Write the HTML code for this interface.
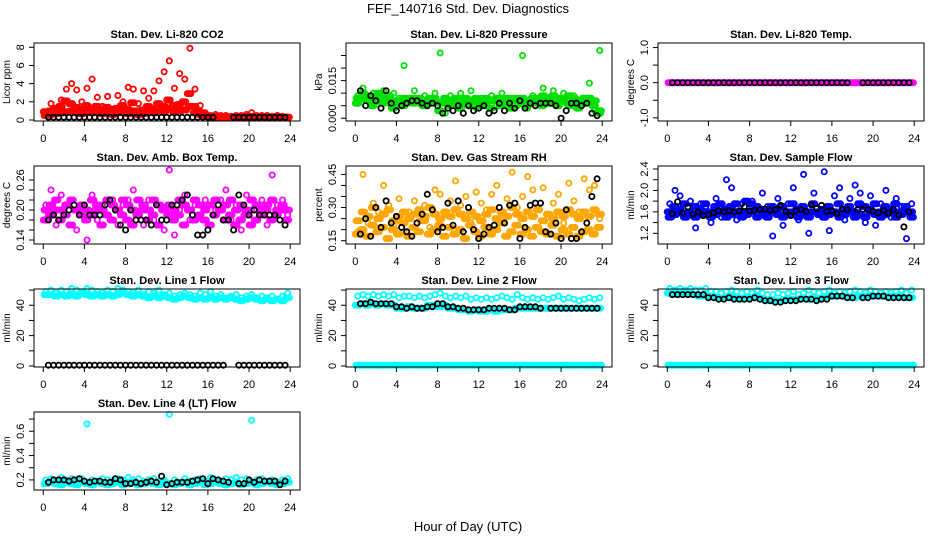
<!DOCTYPE html>
<html><head><meta charset="utf-8"><style>
html,body{margin:0;padding:0;background:#fff;}
svg{display:block;font-family:"Liberation Sans",Arial,sans-serif;}
</style></head><body>
<svg id="fig" width="936" height="540" viewBox="0 0 936 540">
<text x="468" y="13" text-anchor="middle" font-size="13">FEF_140716  Std. Dev. Diagnostics</text>
<text x="468" y="531" text-anchor="middle" font-size="13">Hour of Day (UTC)</text>
</svg>
<script>
const hours=[0,0.5,1,1.5,2,2.5,3,3.5,4,4.5,5,5.5,6,6.5,7,7.5,8,8.5,9,9.5,10,10.5,11,11.5,12,12.5,13,13.5,14,14.5,15,15.5,16,16.5,17,17.5,18,18.5,19,19.5,20,20.5,21,21.5,22,22.5,23,23.5];
const xTicks=[0,4,8,12,16,20,24];

const co2A=[0.5,1.8,0.9,2.2,3.4,4.0,3.3,2.0,3.5,4.5,2.5,1.5,2.6,1.2,2.7,2.0,3.6,3.4,1.8,3.2,2.4,3.2,4.3,5.3,6.5,3.5,5.1,4.5,7.9,3.4,1.6,0.8,0.5,0.6,0.5,0.5,0.4,0.5,0.5,0.6,0.8,0.5,0.5,0.5,0.4,0.5,0.4,0.3];
const co2B=[0.9,1.0,1.3,1.5,2.1,1.8,1.4,1.2,1.6,1.3,1.5,1.1,1.4,1.0,1.3,1.6,1.2,1.9,1.0,1.1,1.5,1.2,1.8,1.5,2.2,1.6,1.7,2.0,2.9,1.5,0.9,0.6,0.4,0.4,0.3,0.3,0.35,0.3,0.3,0.4,0.4,0.3,0.35,0.3,0.3,0.35,0.3,0.3];
const co2C=[0.5,0.6,0.7,0.8,0.9,1.0,0.8,0.7,0.9,0.8,1.0,0.7,0.8,0.6,0.9,0.8,0.7,1.0,0.6,0.7,0.9,0.8,1.0,0.9,1.2,0.9,1.0,1.1,1.5,0.8,0.6,0.4,0.3,0.3,0.3,0.3,0.3,0.3,0.3,0.3,0.3,0.3,0.3,0.3,0.3,0.3,0.3,0.3];
const co2K=[null,0.3,0.3,0.3,0.3,0.3,0.3,0.3,0.3,0.3,0.3,0.3,0.3,0.3,0.3,0.3,0.3,0.3,0.3,0.3,0.3,0.3,0.3,0.3,0.3,0.3,0.3,0.3,0.3,0.3,0.3,0.3,0.3,0.3,null,null,null,0.3,0.3,0.3,0.3,0.3,0.3,0.3,0.3,0.3,0.3,0.3];

const presA=[0.009,0.012,0.008,0.010,0.007,0.011,0.006,0.010,0.008,0.021,0.007,0.011,0.006,0.009,0.007,0.010,0.026,0.002,0.009,0.005,0.010,0.006,0.011,0.004,0.008,0.006,0.009,0.005,0.010,0.007,0.008,0.005,0.025,0.004,0.009,0.007,0.012,0.006,0.011,0.007,0.010,0.005,0.009,0.006,0.008,0.014,0.003,0.027];
const presB=[0.006,0.008,0.007,0.005,0.009,0.006,0.008,0.004,0.007,0.005,0.008,0.006,0.007,0.005,0.006,0.008,0.003,0.006,0.005,0.007,0.004,0.006,0.005,0.007,0.005,0.006,0.004,0.007,0.005,0.006,0.004,0.007,0.006,0.005,0.007,0.006,0.005,0.007,0.006,0.005,0.007,0.006,0.005,0.004,0.006,0.007,0.005,0.002];
const presC=[0.008,0.010,0.009,0.008,0.010,0.008,0.009,0.007,0.006,0.008,0.007,0.008,0.008,0.007,0.008,0.007,0.006,0.008,0.007,0.008,0.006,0.008,0.007,0.008,0.007,0.008,0.007,0.008,0.007,0.008,0.007,0.008,0.008,0.007,0.008,0.008,0.009,0.008,0.009,0.008,0.008,0.009,0.008,0.007,0.008,0.008,0.007,0.003];
const presK=[null,0.011,0.005,0.009,0.007,0.004,0.011,0.006,0.003,0.005,0.006,0.007,0.007,0.006,0.005,0.006,0.005,0.002,0.004,0.003,0.005,0.002,0.005,0.003,0.004,0.005,0.002,0.003,0.006,0.003,0.006,0.004,0.007,0.004,0.006,0.005,0.006,0.006,0.006,0.005,0.000,0.003,0.006,0.006,0.005,0.006,0.002,0.001];

const tempA=[0,0,0,0,0,0,0,0,0,0,0,0,0,0,0,0,0,0,0,0,0,0,0,0,0,0,0,0,0,0,0,0,0,0,0,0,0,0,0,0,0,0,0,0,0,0,0,0];
const tempK=[null,0,0,0,0,0,0,0,0,0,0,0,0,0,0,0,0,0,0,0,0,0,0,0,0,0,0,0,0,0,0,0,0,0,0,0,null,null,0,0,0,0,0,0,0,0,0,0];

const boxA=[0.21,0.24,0.17,0.23,0.19,0.22,0.16,0.20,0.14,0.23,0.18,0.21,0.19,0.22,0.17,0.21,0.22,0.24,0.19,0.17,0.22,0.18,0.21,0.16,0.28,0.15,0.20,0.23,0.18,0.21,0.19,0.22,0.17,0.20,0.22,0.24,0.18,0.21,0.16,0.23,0.20,0.18,0.22,0.17,0.27,0.21,0.22,0.19];
const boxB=[0.18,0.19,0.20,0.18,0.19,0.17,0.20,0.19,0.18,0.19,0.20,0.17,0.19,0.18,0.20,0.19,0.18,0.17,0.19,0.20,0.18,0.19,0.17,0.20,0.19,0.18,0.19,0.17,0.20,0.18,0.19,0.18,0.17,0.19,0.20,0.18,0.19,0.17,0.18,0.19,0.17,0.18,0.19,0.20,0.18,0.19,0.20,0.18];
const boxC=[0.20,0.21,0.22,0.20,0.21,0.22,0.20,0.21,0.20,0.22,0.21,0.20,0.22,0.21,0.20,0.22,0.21,0.20,0.22,0.21,0.20,0.22,0.21,0.20,0.21,0.20,0.22,0.21,0.20,0.22,0.21,0.20,0.21,0.22,0.20,0.21,0.22,0.20,0.21,0.20,0.22,0.21,0.20,0.21,0.22,0.20,0.21,0.20];
const boxK=[null,0.18,0.19,0.18,0.19,0.20,0.21,0.19,0.21,0.19,0.19,0.19,0.21,0.22,0.20,0.17,0.16,0.20,0.18,0.18,0.18,0.17,0.21,0.18,0.18,0.21,0.21,0.22,0.23,0.19,0.15,0.15,0.16,0.19,0.21,0.18,0.18,0.16,0.23,0.21,0.19,0.20,0.19,0.19,0.19,0.19,0.18,0.17];

const rhA=[0.19,0.45,0.23,0.32,0.28,0.40,0.31,0.22,0.34,0.19,0.28,0.33,0.24,0.31,0.21,0.38,0.36,0.27,0.33,0.42,0.31,0.35,0.23,0.37,0.32,0.29,0.36,0.40,0.25,0.34,0.46,0.30,0.35,0.44,0.38,0.29,0.39,0.27,0.32,0.36,0.23,0.41,0.33,0.28,0.43,0.38,0.40,0.25];
const rhB=[0.18,0.20,0.17,0.22,0.19,0.21,0.16,0.20,0.18,0.23,0.17,0.21,0.19,0.24,0.18,0.20,0.22,0.17,0.21,0.18,0.20,0.16,0.22,0.19,0.17,0.21,0.18,0.20,0.23,0.17,0.19,0.22,0.18,0.20,0.17,0.21,0.19,0.18,0.22,0.17,0.20,0.18,0.21,0.17,0.19,0.20,0.18,0.21];
const rhC=[0.24,0.28,0.26,0.30,0.25,0.27,0.29,0.24,0.26,0.28,0.25,0.27,0.29,0.26,0.30,0.27,0.25,0.28,0.26,0.29,0.27,0.25,0.28,0.26,0.24,0.27,0.29,0.25,0.28,0.26,0.30,0.27,0.25,0.28,0.26,0.29,0.24,0.27,0.25,0.28,0.26,0.29,0.27,0.25,0.28,0.26,0.29,0.27];
const rhK=[null,0.18,0.25,0.17,0.30,0.21,0.33,0.23,0.26,0.21,0.19,0.17,0.23,0.27,0.36,0.29,0.19,0.21,0.32,0.22,0.33,0.19,0.30,0.20,0.16,0.18,0.21,0.22,0.30,0.23,0.31,0.32,0.16,0.21,0.31,0.32,0.32,0.19,0.18,0.23,0.16,0.29,0.16,0.16,0.19,0.23,0.35,0.43];

const flowA=[1.75,2.0,1.9,1.5,1.8,1.3,1.75,1.7,1.4,1.85,1.5,2.2,2.05,1.45,1.75,1.6,1.8,1.55,1.95,1.7,1.15,1.85,1.35,1.75,2.05,1.45,2.3,1.2,1.95,1.55,2.35,1.25,1.9,2.05,1.45,1.85,2.1,1.95,1.4,1.9,1.35,1.75,2.0,1.5,1.85,1.7,1.1,1.75];
const flowB=[1.6,1.7,1.65,1.75,1.6,1.7,1.65,1.75,1.6,1.7,1.75,1.65,1.7,1.75,1.6,1.8,1.75,1.7,1.65,1.6,1.7,1.65,1.7,1.6,1.75,1.65,1.7,1.6,1.75,1.6,1.65,1.7,1.6,1.75,1.65,1.7,1.6,1.75,1.7,1.65,1.75,1.6,1.7,1.65,1.75,1.6,1.7,1.6];
const flowC=[1.5,1.55,1.6,1.5,1.55,1.5,1.6,1.55,1.5,1.55,1.6,1.5,1.55,1.6,1.5,1.55,1.6,1.5,1.55,1.5,1.6,1.55,1.5,1.55,1.6,1.5,1.55,1.5,1.6,1.55,1.5,1.55,1.6,1.5,1.55,1.6,1.5,1.55,1.5,1.6,1.55,1.5,1.55,1.6,1.5,1.55,1.6,1.5];
const flowK=[null,1.57,1.79,1.58,1.69,1.56,1.60,1.53,1.55,1.58,1.62,1.60,1.62,1.60,1.62,1.70,1.62,1.63,1.64,1.65,1.63,1.64,1.72,1.61,1.53,1.62,1.64,1.61,1.73,1.66,1.72,1.61,1.62,1.56,1.65,1.64,null,1.64,1.65,1.64,1.61,1.58,1.63,1.57,1.64,1.54,1.32,1.60];

const l1A=[49,50,48,50,49,51,50,48,51,50,49,48,50,49,51,50,49,48,50,47,49,48,50,47,48,46,47,48,47,46,48,47,49,46,47,45,46,47,45,46,47,45,46,45,46,44,46,48];
const l1B=[47,47,46,47,46,47,46,48,47,46,47,46,47,46,47,48,47,46,47,46,45,46,45,46,45,44,45,46,45,44,45,44,45,44,45,44,45,44,43,44,45,44,43,44,43,44,43,45];
const l1K=[null,0.5,0.5,0.5,0.5,0.5,0.5,0.5,0.5,0.5,0.5,0.5,0.5,0.5,0.5,0.5,0.5,0.5,0.5,0.5,0.5,0.5,0.5,0.5,0.5,0.5,0.5,0.5,0.5,0.5,0.5,0.5,0.5,0.5,0.5,0.5,null,null,0.5,0.5,0.5,0.5,0.5,0.5,0.5,0.5,0.5,0.5];

const l2A=[46,47,46,47,46,47,46,47,45,46,46,45,46,45,46,47,48,46,45,46,45,46,44,45,44,45,44,45,46,45,44,47,45,44,45,44,45,44,45,46,44,45,44,43,44,45,44,45];
const l2B=[40,41,40,41,40,41,40,40,38,38,39,38,38,38,40,40,39,40,38,38,37,37,36,37,36,36,37,36,37,37,37,38,38,38,38,38,38,38,38,38,38,38,38,38,38,38,38,38];
const l2K=[null,41,41,42,41,41,41,41,39,39,38,39,38,38,39,39,41,41,39,39,38,38,37,37,37,37,38,38,38,38,37,37,39,39,39,39,38,null,38,38,38,38,38,38,38,38,38,38];
const zeroFlow=[0.5,0.5,0.5,0.5,0.5,0.5,0.5,0.5,0.5,0.5,0.5,0.5,0.5,0.5,0.5,0.5,0.5,0.5,0.5,0.5,0.5,0.5,0.5,0.5,0.5,0.5,0.5,0.5,0.5,0.5,0.5,0.5,0.5,0.5,0.5,0.5,0.5,0.5,0.5,0.5,0.5,0.5,0.5,0.5,0.5,0.5,0.5,0.5];

const l3A=[51,50,51,50,51,50,50,51,49,49,48,49,50,49,48,49,48,50,48,47,47,48,47,48,49,47,48,50,49,48,49,50,48,49,48,49,50,49,48,50,49,48,49,48,49,50,48,50];
const l3B=[48,48,48,48,48,47,46,46,46,45,45,45,46,45,44,45,45,46,44,43,43,43,43,44,44,44,45,44,45,44,45,46,46,46,46,45,45,46,46,46,46,46,46,46,46,46,45,45];
const l3K=[null,47,47,47,47,47,47,47,45,45,44,44,45,44,44,44,44,45,44,43,43,42,42,43,43,43,44,44,44,43,44,44,46,46,46,45,45,null,45,45,46,46,46,45,45,45,45,45];

const l4A=[0.20,0.21,0.19,0.22,0.20,0.21,0.19,0.21,0.66,0.20,0.19,0.21,0.20,0.19,0.21,0.20,0.22,0.20,0.21,0.19,0.20,0.21,0.19,0.20,0.74,0.20,0.18,0.21,0.19,0.20,0.21,0.19,0.22,0.20,0.19,0.21,0.20,0.22,0.20,0.21,0.69,0.20,0.21,0.19,0.20,0.18,0.20,0.21];
const l4B=[0.17,0.18,0.17,0.16,0.18,0.17,0.16,0.18,0.17,0.16,0.18,0.17,0.16,0.17,0.18,0.16,0.17,0.18,0.16,0.17,0.18,0.17,0.16,0.18,0.17,0.16,0.17,0.18,0.16,0.17,0.18,0.16,0.17,0.18,0.17,0.16,0.17,0.18,0.16,0.17,0.18,0.16,0.17,0.18,0.17,0.16,0.17,0.18];
const l4K=[null,0.18,0.20,0.20,0.20,0.19,0.20,0.21,0.19,0.18,0.19,0.19,0.18,0.18,0.21,0.20,0.17,0.17,0.18,0.17,0.18,0.19,0.18,0.23,0.16,0.17,0.18,0.18,0.18,0.19,0.20,0.21,0.17,0.21,0.20,0.19,0.18,null,0.17,0.17,0.20,0.18,0.20,0.19,0.19,0.19,0.16,0.19];

const panels=[
 {id:'co2',r:0,c:0,title:'Stan. Dev. Li-820 CO2',ylab:'Licor ppm',ylim:[-0.11,8.47],ticks:[0,2,4,6,8],labels:['0','2','4','6','8'],col:'#ff0000',series:[co2C,co2B,co2A],black:co2K},
 {id:'pressure',r:0,c:1,title:'Stan. Dev. Li-820 Pressure',ylab:'kPa',ylim:[-0.0011,0.030],ticks:[0,0.005,0.01,0.015,0.02,0.025],labels:['0.000','','','0.015','',''],col:'#00e000',series:[presC,presB,presA],black:presK},
 {id:'temp',r:0,c:2,title:'Stan. Dev. Li-820 Temp.',ylab:'degrees C',ylim:[-1.09,1.13],ticks:[-1,-0.5,0,0.5,1],labels:['-1.0','','0.0','','1.0'],col:'#ff00ff',series:[tempA,tempA],black:tempK},
 {id:'box-temp',r:1,c:0,title:'Stan. Dev. Amb. Box Temp.',ylab:'degrees C',ylim:[0.132,0.288],ticks:[0.14,0.16,0.18,0.2,0.22,0.24,0.26],labels:['0.14','','','0.20','','','0.26'],col:'#ff00ff',series:[boxC,boxB,boxA],black:boxK},
 {id:'rh',r:1,c:1,title:'Stan. Dev. Gas Stream RH',ylab:'percent',ylim:[0.135,0.488],ticks:[0.15,0.2,0.25,0.3,0.35,0.4,0.45],labels:['0.15','','','0.30','','','0.45'],col:'#ffa500',series:[rhC,rhB,rhA],black:rhK},
 {id:'sample-flow',r:1,c:2,title:'Stan. Dev. Sample Flow',ylab:'ml/min',ylim:[1.0,2.456],ticks:[1.2,1.4,1.6,1.8,2.0,2.2,2.4],labels:['1.2','','1.6','','2.0','','2.4'],col:'#0000ff',series:[flowC,flowB,flowA],black:flowK},
 {id:'line1',r:2,c:0,title:'Stan. Dev. Line 1 Flow',ylab:'ml/min',ylim:[-0.67,50.7],ticks:[0,10,20,30,40,50],labels:['0','','20','','40',''],col:'#00ffff',series:[l1B,l1A],black:l1K},
 {id:'line2',r:2,c:1,title:'Stan. Dev. Line 2 Flow',ylab:'ml/min',ylim:[-0.67,50.7],ticks:[0,10,20,30,40,50],labels:['0','','20','','40',''],col:'#00ffff',series:[zeroFlow,l2B,l2A],black:l2K},
 {id:'line3',r:2,c:2,title:'Stan. Dev. Line 3 Flow',ylab:'ml/min',ylim:[-0.67,50.7],ticks:[0,10,20,30,40,50],labels:['0','','20','','40',''],col:'#00ffff',series:[zeroFlow,l3B,l3A],black:l3K},
 {id:'line4',r:3,c:0,title:'Stan. Dev. Line 4 (LT) Flow',ylab:'ml/min',ylim:[0.117,0.758],ticks:[0.2,0.3,0.4,0.5,0.6,0.7],labels:['0.2','','0.4','','0.6',''],col:'#00ffff',series:[l4B,l4A],black:l4K}
];

const NS='http://www.w3.org/2000/svg';
const svg=document.getElementById('fig');
function mk(tag,attrs,parent){const e=document.createElementNS(NS,tag);for(const k in attrs)e.setAttribute(k,attrs[k]);parent.appendChild(e);return e;}
const XMIN=-0.9,XMAX=24.95;
const binOffsets=[0,0.17,0.34];
panels.forEach(p=>{
 const L=34+312*p.c,R=300+312*p.c,T=43+123*p.r,B=T+78;
 const sx=v=>L+(v-XMIN)/(XMAX-XMIN)*(R-L);
 const sy=v=>B-(v-p.ylim[0])/(p.ylim[1]-p.ylim[0])*(B-T);
 const g=mk('g',{},svg);
 
 
 const t=mk('text',{x:(L+R)/2,y:T-5,'text-anchor':'middle','font-size':'11','font-weight':'bold'},g);
 t.textContent=p.title;
 
 
 const pts=mk('g',{fill:'none','stroke-width':'1.8'},g);
 
 
 const last=p.series.length-1;
 p.series.forEach((s,si)=>{
  const offs=si===last?[0.25]:binOffsets;
  s.forEach((v,i)=>{
   if(v===null)return;
   offs.forEach(o=>{
    const x=hours[i]+o+(si%2===0&&si!==last?0.08:0);
    const c=mk('circle',{cx:sx(x).toFixed(1),cy:sy(v).toFixed(1),r:'2.6',stroke:p.col},pts);
    
    
   });
  });
 });
 p.black.forEach((v,i)=>{
  if(v===null)return;
  const c=mk('circle',{cx:sx(hours[i]).toFixed(1),cy:sy(v).toFixed(1),r:'2.6',stroke:'#000'},pts);
  
  
 });
 const box=mk('rect',{x:L,y:T,width:R-L,height:B-T,fill:'none',stroke:'#000','stroke-width':'1'},g);
 
 
 const xa=mk('g',{},g);
 
 
 mk('line',{x1:sx(xTicks[0]),x2:sx(xTicks[xTicks.length-1]),y1:B,y2:B,stroke:'#000'},xa);
 xTicks.forEach(v=>{
  mk('line',{x1:sx(v),x2:sx(v),y1:B,y2:B+5,stroke:'#000'},xa);
  const tl=mk('text',{x:sx(v),y:B+21,'text-anchor':'middle','font-size':'11'},xa);
  tl.textContent=String(v);
 });
 const ya=mk('g',{},g);
 
 
 mk('line',{x1:L,x2:L,y1:sy(p.ticks[0]),y2:sy(p.ticks[p.ticks.length-1]),stroke:'#000'},ya);
 p.ticks.forEach((v,i)=>{
  const y=sy(v);
  mk('line',{x1:L-5,x2:L,y1:y,y2:y,stroke:'#000'},ya);
  if(p.labels[i]){
   const tl=mk('text',{x:L-10,y:y,'text-anchor':'middle','font-size':'11',transform:`rotate(-90 ${L-10} ${y})`},ya);
   tl.textContent=p.labels[i];
  }
 });
 const yl=mk('text',{x:L-24,y:(T+B)/2,'text-anchor':'middle','font-size':'10',transform:`rotate(-90 ${L-24} ${(T+B)/2})`},g);
 yl.textContent=p.ylab;
 
 
});
</script>
</body></html>
